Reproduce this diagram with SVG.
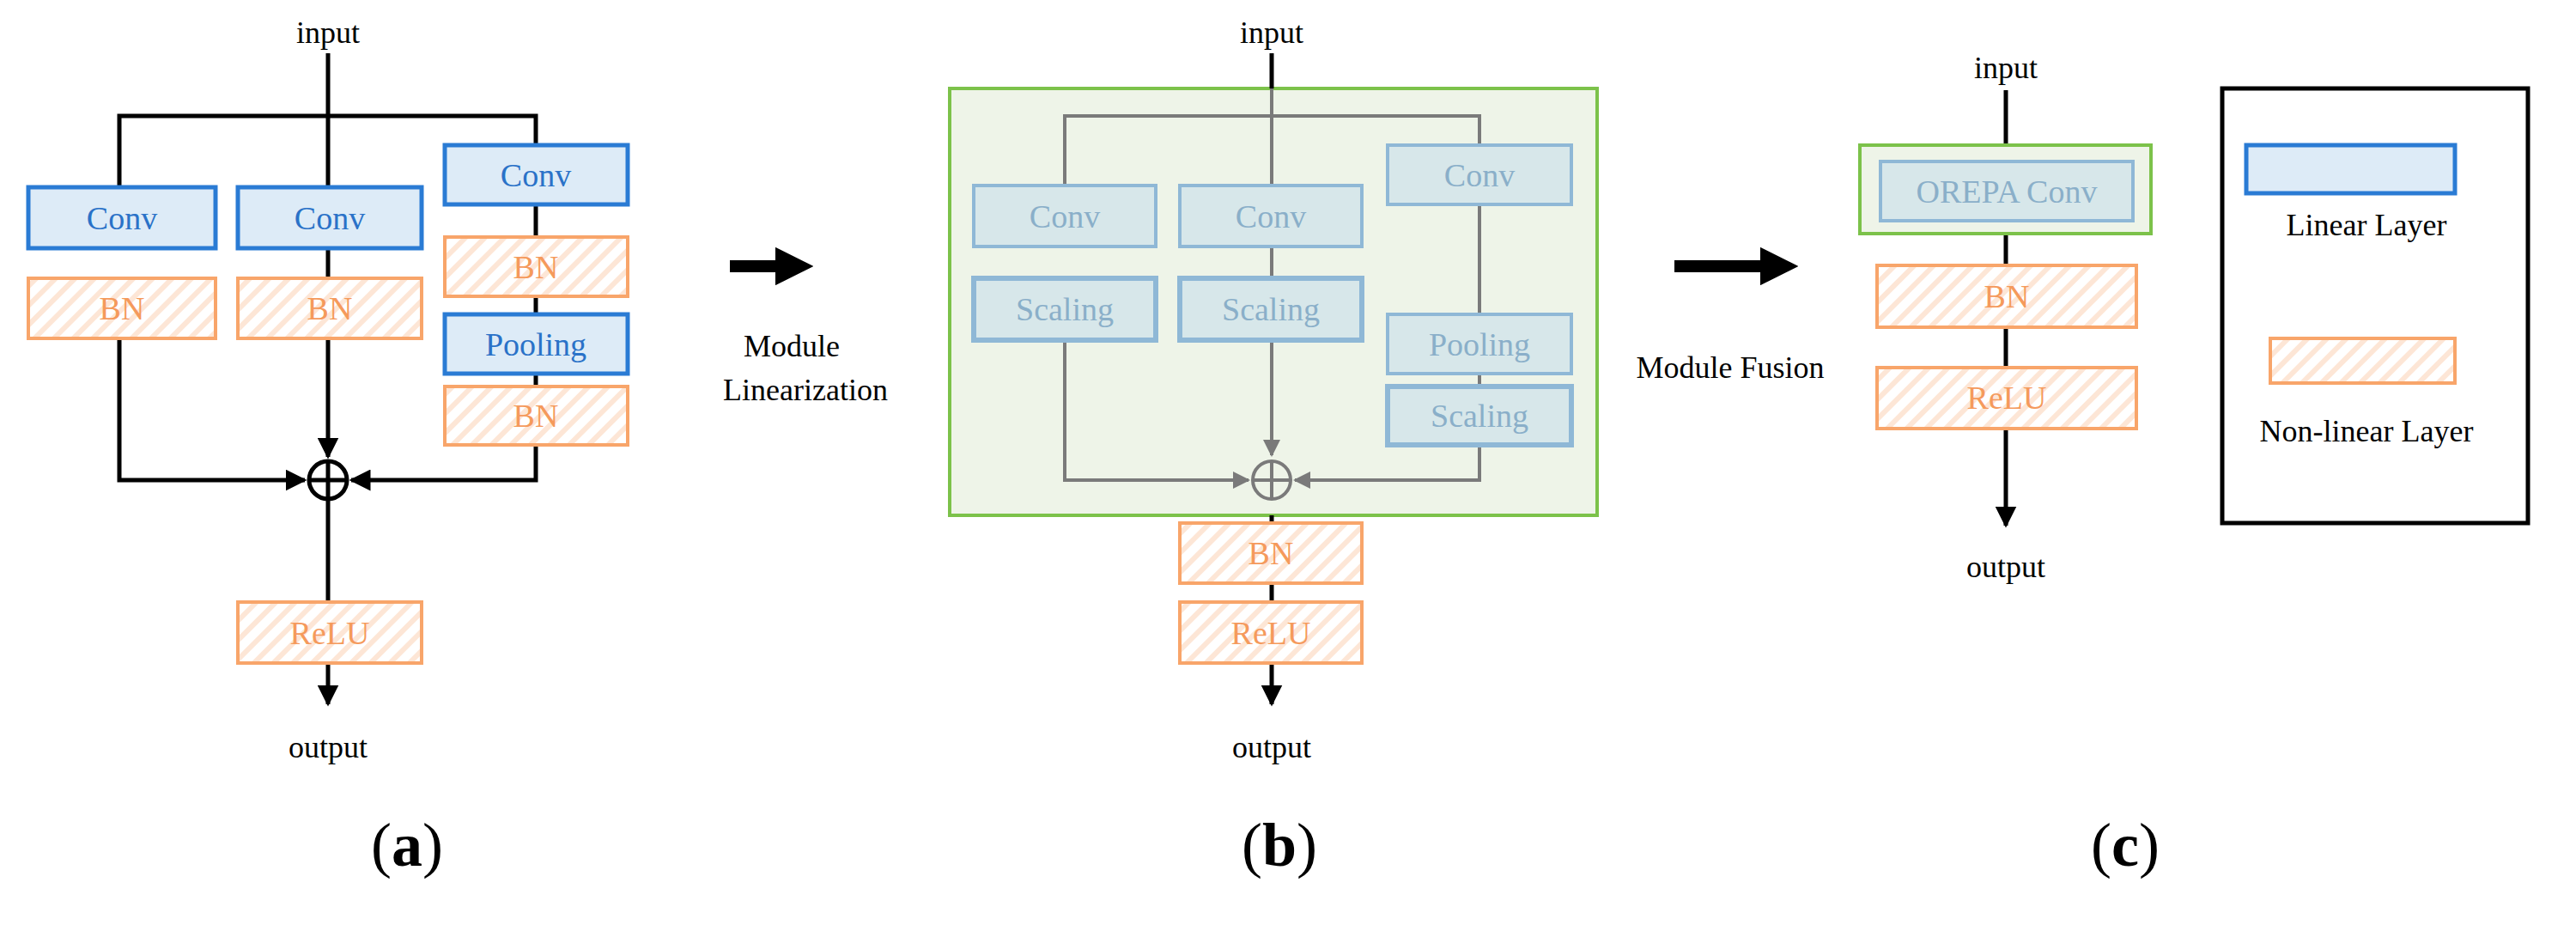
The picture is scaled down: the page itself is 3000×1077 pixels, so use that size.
<svg xmlns="http://www.w3.org/2000/svg" width="3000" height="1077" viewBox="0 0 3000 1077">
<defs>
<pattern id="hatch" patternUnits="userSpaceOnUse" width="16" height="16" patternTransform="rotate(45)">
<rect width="16" height="16" fill="#fff"/>
<rect width="6" height="16" fill="#fde6d6"/>
</pattern>
<marker id="ah" viewBox="0 0 10 10" refX="9" refY="5" markerWidth="5" markerHeight="5" orient="auto" markerUnits="strokeWidth"><path d="M0,0L10,5L0,10z" fill="#000"/></marker>
<marker id="ahg" viewBox="0 0 10 10" refX="9" refY="5" markerWidth="5" markerHeight="5" orient="auto" markerUnits="strokeWidth"><path d="M0,0L10,5L0,10z" fill="#7a7a7a"/></marker>
<marker id="big" viewBox="0 0 10 10" refX="5" refY="5" markerWidth="3.2" markerHeight="3.2" orient="auto" markerUnits="strokeWidth"><path d="M0,0L10,5L0,10z" fill="#000"/></marker>
</defs>
<style>
text{font-family:"Liberation Serif","Times New Roman",serif;text-anchor:middle;dominant-baseline:central}
.lin rect{fill:#ddebf7;stroke:#2a7bd4;stroke-width:5}
.lin text{fill:#2a72c8;font-size:38px}
.nl rect{fill:url(#hatch);stroke:#f8a56a;stroke-width:4}
.nl text{fill:#f59a5c;font-size:38px}
.fd rect{fill:#d7e7ea;stroke:#8fb8d6;stroke-width:4}
.fd.sc rect{stroke-width:6}
.fd text{fill:#8aafc9;font-size:38px}
.w{fill:none;stroke:#000;stroke-width:5}
.g{fill:none;stroke:#7a7a7a;stroke-width:4}
.lbl{font-size:36px;fill:#000}
.cap{font-size:72px;fill:#000}
</style>

<!-- (a) -->
<g id="connectors-a">
<path class="w" d="M382,62V532" marker-end="url(#ah)"/>
<path class="w" d="M139,216V135H624V169"/>
<path class="w" d="M139,394V559H355" marker-end="url(#ah)"/>
<path class="w" d="M624,518V559H409" marker-end="url(#ah)"/>
<path class="w" d="M624,238V276M624,345V366M624,435V450"/>
<circle class="w" cx="382" cy="559" r="22" fill="#fff"/>
<path class="w" d="M360,559H404M382,537V581"/>
<path class="w" d="M382,581V701"/>
<path class="w" d="M382,772V820" marker-end="url(#ah)"/>
</g>
<text class="lbl" x="382" y="38">input</text>
<text class="lbl" x="382" y="870">output</text>
<g id="a-conv1" class="lin"><rect x="33" y="218" width="218" height="71"/><text x="142" y="254">Conv</text></g>
<g id="a-conv2" class="lin"><rect x="277" y="218" width="214" height="71"/><text x="384" y="254">Conv</text></g>
<g id="a-conv3" class="lin"><rect x="518" y="169" width="213" height="69"/><text x="624" y="204">Conv</text></g>
<g id="a-bn1" class="nl"><rect x="33" y="324" width="218" height="70"/><text x="142" y="359">BN</text></g>
<g id="a-bn2" class="nl"><rect x="277" y="324" width="214" height="70"/><text x="384" y="359">BN</text></g>
<g id="a-bn3" class="nl"><rect x="518" y="276" width="213" height="69"/><text x="624" y="311">BN</text></g>
<g id="a-pool" class="lin"><rect x="518" y="366" width="213" height="69"/><text x="624" y="401">Pooling</text></g>
<g id="a-bn4" class="nl"><rect x="518" y="450" width="213" height="68"/><text x="624" y="484">BN</text></g>
<g id="a-relu" class="nl"><rect x="277" y="701" width="214" height="71"/><text x="384" y="737">ReLU</text></g>
<text class="cap" x="474" y="984">(<tspan font-weight="bold">a</tspan>)</text>

<!-- arrow 1 -->
<g id="arrow1"><path d="M850,310H925" stroke="#000" stroke-width="14" marker-end="url(#big)"/></g>
<text class="lbl" x="922" y="403">Module</text>
<text class="lbl" x="938" y="454">Linearization</text>

<!-- (b) -->
<g id="b-frame"><rect x="1106" y="103" width="754" height="497" fill="#eef4e8" stroke="#7cc24a" stroke-width="4"/></g>
<g id="connectors-b">
<path class="w" d="M1481,62V103"/>
<path class="g" d="M1481,103V530" marker-end="url(#ahg)"/>
<path class="g" d="M1240,216V135H1723V169"/>
<path class="g" d="M1240,396V559H1454" marker-end="url(#ahg)"/>
<path class="g" d="M1723,518V559H1508" marker-end="url(#ahg)"/>
<path class="g" d="M1723,238V366M1723,435V450"/>
<circle class="g" cx="1481" cy="559" r="22" fill="none"/>
<path class="g" d="M1459,559H1503M1481,537V581"/>
<path class="w" d="M1481,600V609M1481,679V701M1481,772V820" marker-end="url(#ah)"/>
</g>
<text class="lbl" x="1481" y="38">input</text>
<text class="lbl" x="1481" y="870">output</text>
<g id="b-conv1" class="fd"><rect x="1134" y="216" width="212" height="71"/><text x="1240" y="252">Conv</text></g>
<g id="b-conv2" class="fd"><rect x="1374" y="216" width="212" height="71"/><text x="1480" y="252">Conv</text></g>
<g id="b-conv3" class="fd"><rect x="1616" y="169" width="214" height="69"/><text x="1723" y="204">Conv</text></g>
<g id="b-sc1" class="fd sc"><rect x="1134" y="324" width="212" height="72"/><text x="1240" y="360">Scaling</text></g>
<g id="b-sc2" class="fd sc"><rect x="1374" y="324" width="212" height="72"/><text x="1480" y="360">Scaling</text></g>
<g id="b-pool" class="fd"><rect x="1616" y="366" width="214" height="69"/><text x="1723" y="401">Pooling</text></g>
<g id="b-sc3" class="fd sc"><rect x="1616" y="450" width="214" height="68"/><text x="1723" y="484">Scaling</text></g>
<g id="b-bn" class="nl"><rect x="1374" y="609" width="212" height="70"/><text x="1480" y="644">BN</text></g>
<g id="b-relu" class="nl"><rect x="1374" y="701" width="212" height="71"/><text x="1480" y="737">ReLU</text></g>
<text class="cap" x="1490" y="984">(<tspan font-weight="bold">b</tspan>)</text>

<!-- arrow 2 -->
<g id="arrow2"><path d="M1950,310H2072" stroke="#000" stroke-width="14" marker-end="url(#big)"/></g>
<text class="lbl" x="2015" y="428">Module Fusion</text>

<!-- (c) -->
<g id="connectors-c">
<path class="w" d="M2336,105V169M2336,272V309M2336,381V428M2336,499V612" marker-end="url(#ah)"/>
</g>
<text class="lbl" x="2336" y="79">input</text>
<text class="lbl" x="2336" y="660">output</text>
<g id="c-orepa"><rect x="2166" y="169" width="339" height="103" fill="#eef4e8" stroke="#7cc24a" stroke-width="4"/>
<g class="fd"><rect x="2190" y="188" width="294" height="69"/><text x="2337" y="223">OREPA Conv</text></g></g>
<g id="c-bn" class="nl"><rect x="2186" y="309" width="302" height="72"/><text x="2337" y="345">BN</text></g>
<g id="c-relu" class="nl"><rect x="2186" y="428" width="302" height="71"/><text x="2337" y="463">ReLU</text></g>
<text class="cap" x="2475" y="984">(<tspan font-weight="bold">c</tspan>)</text>

<!-- legend -->
<g id="legend">
<rect x="2588" y="103" width="356" height="506" fill="#fff" stroke="#000" stroke-width="5"/>
<g class="lin"><rect x="2616" y="169" width="243" height="56"/></g>
<text class="lbl" x="2756" y="262">Linear Layer</text>
<g class="nl"><rect x="2644" y="394" width="215" height="52"/></g>
<text class="lbl" x="2756" y="502">Non-linear Layer</text>
</g>
</svg>
